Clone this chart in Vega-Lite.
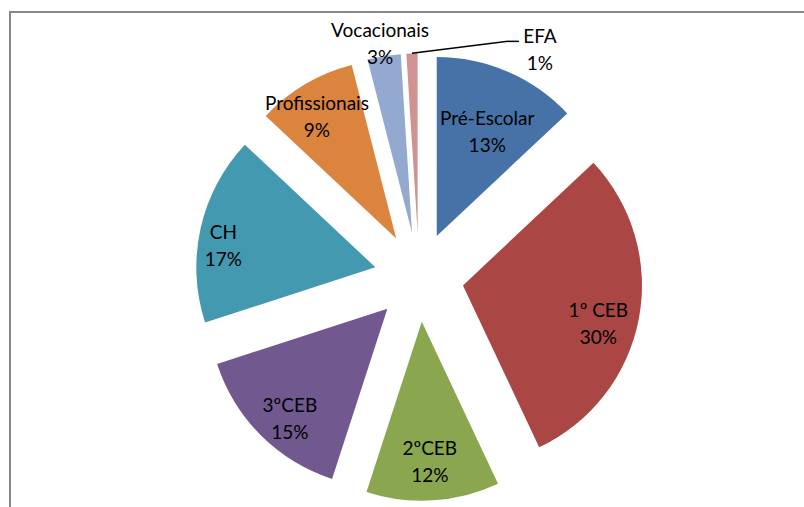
{
  "$schema": "https://vega.github.io/schema/vega-lite/v6.json",
  "width": 797,
  "height": 497,
  "autosize": {"type": "none"},
  "padding": {"left": 10, "top": 12, "right": 0, "bottom": 0},
  "background": "white",
  "config": {"view": {"stroke": "#878787", "strokeWidth": 2}},
  "data": {
    "values": [
      {"Categoria": "Pré-Escolar", "Percentagem": 13},
      {"Categoria": "1º CEB", "Percentagem": 30},
      {"Categoria": "2ºCEB", "Percentagem": 12},
      {"Categoria": "3ºCEB", "Percentagem": 15},
      {"Categoria": "CH", "Percentagem": 17},
      {"Categoria": "Profissionais", "Percentagem": 9},
      {"Categoria": "Vocacionais", "Percentagem": 3},
      {"Categoria": "EFA", "Percentagem": 1}
    ]
  },
  "transform": [
    {"joinaggregate": [{"op": "sum", "field": "Percentagem", "as": "total"}]},
    {"window": [{"op": "sum", "field": "Percentagem", "as": "fim"}], "frame": [null, 0]},
    {"calculate": "datum.fim - datum.Percentagem", "as": "inicio"},
    {"calculate": "2 * PI * (datum.inicio + datum.Percentagem / 2) / datum.total", "as": "meio"},
    {"calculate": "0.25 * sin(datum.meio)", "as": "ex"},
    {"calculate": "0.25 * cos(datum.meio)", "as": "ey"},
    {"calculate": "1.02 * sin(datum.meio)", "as": "lx"},
    {"calculate": "1.02 * cos(datum.meio)", "as": "ly"},
    {"calculate": "0.96 * sin(datum.meio)", "as": "ax"},
    {"calculate": "0.96 * cos(datum.meio)", "as": "ay"},
    {"calculate": "1.12 * sin(datum.meio)", "as": "bx"},
    {"calculate": "1.12 * cos(datum.meio)", "as": "by"},
    {"calculate": "1.39 * sin(datum.meio)", "as": "ox"},
    {"calculate": "1.39 * cos(datum.meio)", "as": "oy"},
    {"calculate": "1.25 * sin(datum.meio)", "as": "sx"},
    {"calculate": "1.25 * cos(datum.meio)", "as": "sy"},
    {"calculate": "[datum.Categoria, datum.Percentagem + '%']", "as": "rotulo"}
  ],
  "layer": [
    {
      "mark": {"type": "arc", "radius": 179, "stroke": null},
      "encoding": {
        "x": {"field": "ex", "type": "quantitative", "axis": null, "scale": {"domain": [-2.28492, 2.16760], "nice": false, "zero": false}},
        "y": {"field": "ey", "type": "quantitative", "axis": null, "scale": {"domain": [-1.29609, 1.48045], "nice": false, "zero": false}},
        "theta": {"field": "inicio", "type": "quantitative", "stack": null, "scale": {"domain": [0, 100], "range": [0, 6.283185307179586]}},
        "theta2": {"field": "fim"},
        "color": {
          "field": "Categoria", "type": "nominal", "legend": null,
          "scale": {
            "domain": ["Pré-Escolar", "1º CEB", "2ºCEB", "3ºCEB", "CH", "Profissionais", "Vocacionais", "EFA"],
            "range": ["#4672A8", "#AA4644", "#8AA64F", "#71588F", "#4299B0", "#DB843D", "#93A9CF", "#D09392"]
          }
        }
      }
    },
    {
      "transform": [{"filter": "datum.Categoria == '1º CEB' || datum.Categoria == '3ºCEB'"}],
      "mark": {"type": "text", "font": "Lato", "fontSize": 19, "lineHeight": 27, "align": "center", "baseline": "middle", "color": "#000000"},
      "encoding": {
        "x": {"field": "lx", "type": "quantitative", "axis": null, "scale": {"domain": [-2.28492, 2.16760], "nice": false, "zero": false}},
        "y": {"field": "ly", "type": "quantitative", "axis": null, "scale": {"domain": [-1.29609, 1.48045], "nice": false, "zero": false}},
        "text": {"field": "rotulo"}
      }
    },
    {
      "transform": [{"filter": "datum.Categoria == 'Pré-Escolar' || datum.Categoria == '2ºCEB'"}],
      "mark": {"type": "text", "font": "Lato", "fontSize": 19, "lineHeight": 27, "align": "center", "baseline": "middle", "color": "#000000"},
      "encoding": {
        "x": {"field": "ax", "type": "quantitative", "axis": null, "scale": {"domain": [-2.28492, 2.16760], "nice": false, "zero": false}},
        "y": {"field": "ay", "type": "quantitative", "axis": null, "scale": {"domain": [-1.29609, 1.48045], "nice": false, "zero": false}},
        "text": {"field": "rotulo"}
      }
    },
    {
      "transform": [{"filter": "datum.Categoria == 'CH' || datum.Categoria == 'Profissionais'"}],
      "mark": {"type": "text", "font": "Lato", "fontSize": 19, "lineHeight": 27, "align": "center", "baseline": "middle", "color": "#000000"},
      "encoding": {
        "x": {"field": "bx", "type": "quantitative", "axis": null, "scale": {"domain": [-2.28492, 2.16760], "nice": false, "zero": false}},
        "y": {"field": "by", "type": "quantitative", "axis": null, "scale": {"domain": [-1.29609, 1.48045], "nice": false, "zero": false}},
        "text": {"field": "rotulo"}
      }
    },
    {
      "transform": [{"filter": "datum.Categoria == 'Vocacionais'"}],
      "mark": {"type": "text", "font": "Lato", "fontSize": 19, "lineHeight": 27, "align": "center", "baseline": "middle", "color": "#000000"},
      "encoding": {
        "x": {"field": "ox", "type": "quantitative", "axis": null, "scale": {"domain": [-2.28492, 2.16760], "nice": false, "zero": false}},
        "y": {"field": "oy", "type": "quantitative", "axis": null, "scale": {"domain": [-1.29609, 1.48045], "nice": false, "zero": false}},
        "text": {"field": "rotulo"}
      }
    },
    {
      "transform": [{"filter": "datum.Categoria == 'EFA'"}],
      "mark": {"type": "text", "font": "Lato", "fontSize": 19, "lineHeight": 27, "align": "center", "baseline": "middle", "color": "#000000", "dx": 128, "dy": -16},
      "encoding": {
        "x": {"field": "sx", "type": "quantitative", "axis": null, "scale": {"domain": [-2.28492, 2.16760], "nice": false, "zero": false}},
        "y": {"field": "sy", "type": "quantitative", "axis": null, "scale": {"domain": [-1.29609, 1.48045], "nice": false, "zero": false}},
        "text": {"field": "rotulo"}
      }
    },
    {
      "transform": [{"filter": "datum.Categoria == 'EFA'"}],
      "mark": {"type": "rule", "color": "#000000", "strokeWidth": 1.5, "x2Offset": 96, "y2Offset": -12},
      "encoding": {
        "x": {"field": "sx", "type": "quantitative", "axis": null, "scale": {"domain": [-2.28492, 2.16760], "nice": false, "zero": false}},
        "y": {"field": "sy", "type": "quantitative", "axis": null, "scale": {"domain": [-1.29609, 1.48045], "nice": false, "zero": false}},
        "x2": {"field": "sx"},
        "y2": {"field": "sy"}
      }
    },
    {
      "transform": [{"filter": "datum.Categoria == 'EFA'"}],
      "mark": {"type": "rule", "color": "#000000", "strokeWidth": 1.5, "xOffset": 96, "x2Offset": 107, "yOffset": -12, "y2Offset": -12},
      "encoding": {
        "x": {"field": "sx", "type": "quantitative", "axis": null, "scale": {"domain": [-2.28492, 2.16760], "nice": false, "zero": false}},
        "y": {"field": "sy", "type": "quantitative", "axis": null, "scale": {"domain": [-1.29609, 1.48045], "nice": false, "zero": false}},
        "x2": {"field": "sx"},
        "y2": {"field": "sy"}
      }
    }
  ]
}
